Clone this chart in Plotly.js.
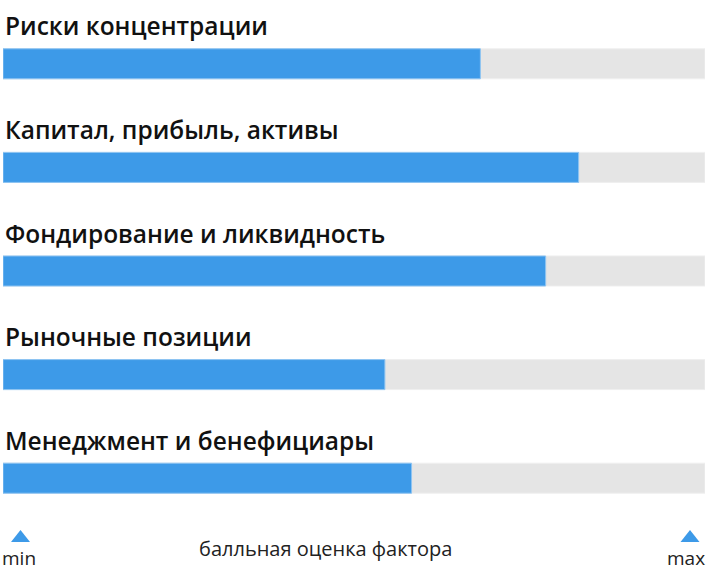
<!DOCTYPE html>
<html><head><meta charset="utf-8">
<script src="https://cdn.plot.ly/plotly-3.0.1.min.js"></script>
<style>html,body{margin:0;padding:0;background:#fff}</style>
</head><body>
<div id="chart" style="width:707px;height:576px"></div>
<script>
const categories = ["Риски концентрации","Капитал, прибыль, активы","Фондирование и ликвидность","Рыночные позиции","Менеджмент и бенефициары"];
const scores = [68, 82, 77.3, 54.4, 58.2];
const maxScore = [100, 100, 100, 100, 100];
const axisLabel = "балльная оценка фактора";
const minLabel = "min";
const maxLabel = "max";

const blue = "#3d9ae8";
const traces = [
  {type:"bar", orientation:"h", y:categories, x:maxScore, width:0.29,
   marker:{color:"#e5e5e5", line:{color:"#efefef", width:1}}, hoverinfo:"skip"},
  {type:"bar", orientation:"h", y:categories, x:scores, width:0.29,
   marker:{color:blue, line:{color:"#8ec4f2", width:1}}}
];
const annotations = categories.map(c => ({
  x:0, xref:"x", y:c, yref:"y", xanchor:"left", yanchor:"middle",
  xshift:0, yshift:38, text:c, showarrow:false,
  font:{family:"Open Sans, Noto Sans, sans-serif", size:24.5, color:"#111", weight:600}
}));
annotations.push(
  {x:0.5, xref:"paper", xshift:-29, y:0, yref:"paper", yanchor:"middle", yshift:-18, text:axisLabel, showarrow:false,
   font:{family:"Open Sans, sans-serif", size:20, color:"#222"}},
  {x:0, xref:"paper", xshift:16, y:0, yref:"paper", xanchor:"center", yanchor:"middle", yshift:-28, text:minLabel, showarrow:false,
   font:{family:"Open Sans, sans-serif", size:19, color:"#222"}},
  {x:1, xref:"paper", xshift:-19, y:0, yref:"paper", xanchor:"center", yanchor:"middle", yshift:-28, text:maxLabel, showarrow:false,
   font:{family:"Open Sans, sans-serif", size:19, color:"#222"}}
);
const tri = (xa, dx) => ({
  type:"path", xref:"paper", yref:"paper", xsizemode:"pixel", ysizemode:"pixel",
  xanchor:xa, yanchor:0,
  path:`M ${dx-9.5},-12 L ${dx+9.5},-12 L ${dx},0 Z`,
  fillcolor:blue, line:{width:0}
});
const layout = {
  width:707, height:576,
  margin:{l:3, r:2, t:12, b:46},
  paper_bgcolor:"#fff", plot_bgcolor:"#fff",
  barmode:"overlay", showlegend:false,
  xaxis:{range:[0,100], showgrid:false, zeroline:false, showticklabels:false, fixedrange:true},
  yaxis:{type:"category", range:[4.5,-0.5], showgrid:false, zeroline:false, showticklabels:false, fixedrange:true},
  shapes:[tri(0, 17.5), tri(1, -15)],
  annotations:annotations
};
Plotly.newPlot("chart", traces, layout, {displayModeBar:false, staticPlot:true});
</script>
</body></html>
